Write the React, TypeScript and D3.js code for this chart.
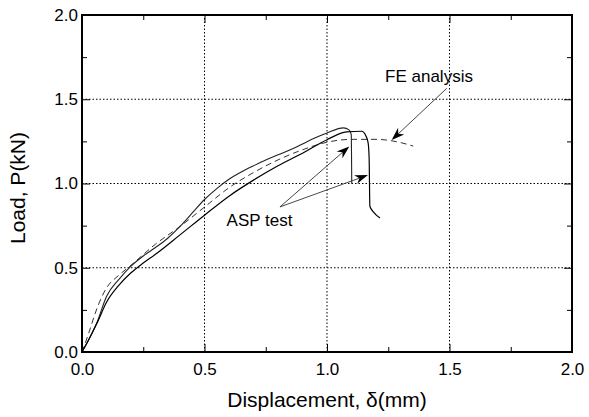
import React, { useEffect, useRef } from "react";
import * as d3 from "d3";

// FE analysis (dashed)
const feCurve: [number, number][] = [
  [0, 0], [0.027, 0.11], [0.054, 0.23], [0.08, 0.325], [0.1, 0.38], [0.15, 0.455],
  [0.2, 0.515], [0.3, 0.64], [0.4, 0.745], [0.5, 0.86], [0.6, 0.975], [0.7, 1.065],
  [0.8, 1.14], [0.9, 1.2], [1.0, 1.245], [1.1, 1.262], [1.2, 1.262], [1.3, 1.243], [1.352, 1.222],
];

// ASP test, specimen 1 (upper solid)
const testA: [number, number][] = [
  [0, 0], [0.03, 0.08], [0.061, 0.175], [0.1, 0.33], [0.15, 0.43], [0.2, 0.51],
  [0.25, 0.57], [0.3, 0.62], [0.35, 0.675], [0.4, 0.745], [0.45, 0.825], [0.5, 0.905],
  [0.55, 0.97], [0.6, 1.025], [0.65, 1.068], [0.7, 1.105], [0.75, 1.14], [0.8, 1.17],
  [0.85, 1.2], [0.9, 1.235], [0.95, 1.27], [1.0, 1.3], [1.067, 1.33], [1.09, 1.318],
  [1.099, 1.29], [1.101, 1.0],
];

// ASP test, specimen 2 (lower solid)
const testB: [number, number][] = [
  [0, 0], [0.03, 0.08], [0.061, 0.17], [0.1, 0.295], [0.15, 0.395], [0.2, 0.47],
  [0.25, 0.528], [0.3, 0.58], [0.4, 0.695], [0.5, 0.812], [0.6, 0.925], [0.7, 1.02],
  [0.8, 1.105], [0.9, 1.18], [1.0, 1.26], [1.08, 1.306], [1.142, 1.31], [1.158, 1.285],
  [1.168, 1.24], [1.172, 1.15], [1.175, 0.865], [1.19, 0.83], [1.216, 0.795],
];

const majorTicks = [0, 0.5, 1.0, 1.5, 2.0];
const minorTicks = [0.25, 0.75, 1.25, 1.75];
const gridValues = [0.5, 1.0, 1.5];

// annotations: [fromX, fromY, toX, toY] in data units
const feArrow = [1.489, 1.565, 1.264, 1.258];
const aspArrows = [
  [0.808, 0.861, 1.091, 1.22],
  [0.808, 0.861, 1.167, 1.05],
];
const feLabel = { text: "FE analysis", x: 1.237, y: 1.604 };
const aspLabel = { text: "ASP test", x: 0.59, y: 0.748 };

const W = 589, H = 417;
const M = { left: 82, right: 572, top: 15, bottom: 352 };
const FONT = "'Liberation Sans', Arial, sans-serif";

const drawChart = (svgEl: SVGSVGElement | null) => {
  if (!svgEl) return;
  const svg = d3.select(svgEl);
  svg.selectAll("*").remove();

  const x = d3.scaleLinear().domain([0, 2]).range([M.left, M.right]);
  const y = d3.scaleLinear().domain([0, 2]).range([M.bottom, M.top]);

  // dotted grid
  const grid = svg.append("g").attr("stroke", "#000").attr("stroke-width", 1).attr("stroke-dasharray", "1.5,2");
  gridValues.forEach((v) => {
    grid.append("line").attr("x1", x(v)).attr("x2", x(v)).attr("y1", M.bottom).attr("y2", M.top);
    grid.append("line").attr("x1", M.left).attr("x2", M.right).attr("y1", y(v)).attr("y2", y(v));
  });

  const fmt = d3.format(".1f");
  const styleAxis = (g: d3.Selection<SVGGElement, unknown, null, undefined>, labels: boolean) => {
    g.select(".domain").remove();
    g.selectAll(".tick line").attr("stroke", "#000").attr("stroke-width", 1);
    g.selectAll("text").attr("font-family", FONT).attr("font-size", 17).attr("fill", "#000");
    if (!labels) g.selectAll("text").remove();
  };

  // bottom / top / left / right ticks (inward)
  svg.append("g").attr("transform", `translate(0,${M.bottom})`)
    .call(d3.axisBottom(x).tickValues(majorTicks).tickSize(-8).tickPadding(11).tickFormat((d) => fmt(d as number)))
    .call((g) => styleAxis(g, true));
  svg.append("g").attr("transform", `translate(0,${M.bottom})`)
    .call(d3.axisBottom(x).tickValues(minorTicks).tickSize(-5))
    .call((g) => styleAxis(g, false));
  svg.append("g").attr("transform", `translate(0,${M.top})`)
    .call(d3.axisTop(x).tickValues(majorTicks).tickSize(-8))
    .call((g) => styleAxis(g, false));
  svg.append("g").attr("transform", `translate(0,${M.top})`)
    .call(d3.axisTop(x).tickValues(minorTicks).tickSize(-5))
    .call((g) => styleAxis(g, false));
  svg.append("g").attr("transform", `translate(${M.left},0)`)
    .call(d3.axisLeft(y).tickValues(majorTicks).tickSize(-8).tickPadding(4).tickFormat((d) => fmt(d as number)))
    .call((g) => styleAxis(g, true));
  svg.append("g").attr("transform", `translate(${M.left},0)`)
    .call(d3.axisLeft(y).tickValues(minorTicks).tickSize(-5))
    .call((g) => styleAxis(g, false));
  svg.append("g").attr("transform", `translate(${M.right},0)`)
    .call(d3.axisRight(y).tickValues(majorTicks).tickSize(-8))
    .call((g) => styleAxis(g, false));
  svg.append("g").attr("transform", `translate(${M.right},0)`)
    .call(d3.axisRight(y).tickValues(minorTicks).tickSize(-5))
    .call((g) => styleAxis(g, false));

  // frame
  svg.append("rect")
    .attr("x", M.left).attr("y", M.top)
    .attr("width", M.right - M.left).attr("height", M.bottom - M.top)
    .attr("fill", "none").attr("stroke", "#000").attr("stroke-width", 2);

  // curves
  const line = d3.line<[number, number]>()
    .x((d) => x(d[0]))
    .y((d) => y(d[1]))
    .curve(d3.curveMonotoneX);

  svg.append("path").datum(feCurve).attr("d", line)
    .attr("fill", "none").attr("stroke", "#333").attr("stroke-width", 1).attr("stroke-dasharray", "6,4");
  svg.append("path").datum(testA).attr("d", line)
    .attr("fill", "none").attr("stroke", "#222").attr("stroke-width", 1.1);
  svg.append("path").datum(testB).attr("d", line)
    .attr("fill", "none").attr("stroke", "#000").attr("stroke-width", 1.2);

  // arrows
  const drawArrow = (a: number[]) => {
    const x1 = x(a[0]), y1 = y(a[1]), x2 = x(a[2]), y2 = y(a[3]);
    const ang = Math.atan2(y2 - y1, x2 - x1);
    const len = 13, half = 4.5, notch = 9;
    const ux = Math.cos(ang), uy = Math.sin(ang);
    const px = -uy, py = ux;
    const bx = x2 - ux * len, by = y2 - uy * len;
    const nx = x2 - ux * notch, ny = y2 - uy * notch;
    svg.append("line")
      .attr("x1", x1).attr("y1", y1).attr("x2", nx).attr("y2", ny)
      .attr("stroke", "#333").attr("stroke-width", 0.9);
    svg.append("path")
      .attr("d", `M${x2},${y2}L${bx + px * half},${by + py * half}L${nx},${ny}L${bx - px * half},${by - py * half}Z`)
      .attr("fill", "#000");
  };
  drawArrow(feArrow);
  aspArrows.forEach(drawArrow);

  // annotation labels
  [feLabel, aspLabel].forEach((l) => {
    svg.append("text")
      .attr("x", x(l.x)).attr("y", y(l.y))
      .attr("font-family", FONT).attr("font-size", 17).attr("fill", "#000")
      .text(l.text);
  });

  // axis titles
  svg.append("text")
    .attr("x", (M.left + M.right) / 2).attr("y", 407)
    .attr("text-anchor", "middle")
    .attr("font-family", FONT).attr("font-size", 21).attr("fill", "#000")
    .text("Displacement, \u03B4(mm)");
  svg.append("text")
    .attr("transform", `translate(25,188) rotate(-90)`)
    .attr("text-anchor", "middle")
    .attr("font-family", FONT).attr("font-size", 21).attr("fill", "#000")
    .text("Load, P(kN)");
};

const App = () => {
  const ref = useRef<SVGSVGElement>(null);
  useEffect(() => {
    drawChart(ref.current);
  }, []);
  return (
    <svg
      ref={ref}
      width={W}
      height={H}
      style={{ position: "absolute", left: 0, top: 0, background: "#fff" }}
    />
  );
};

export default App;
